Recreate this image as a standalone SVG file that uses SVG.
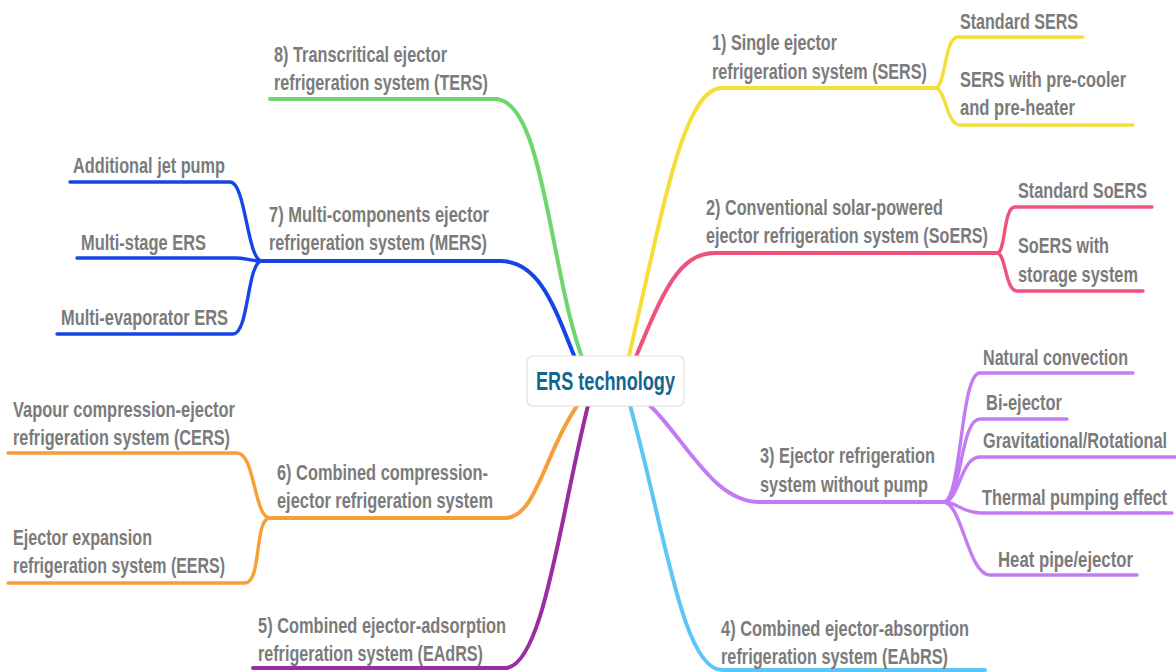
<svg xmlns="http://www.w3.org/2000/svg" width="1176" height="672" viewBox="0 0 1176 672">
  <style>
    .ln { fill: none; stroke-linecap: round; stroke-linejoin: round; }
    .main { stroke-width: 4; }
    .sub { stroke-width: 3.4; }
    .t { font-family: "Liberation Sans", Arial, sans-serif; font-weight: bold; font-size: 22px; fill: #7b7b7b; }
    .yel { stroke: #f6de3a; }
    .pnk { stroke: #f0527c; }
    .vio { stroke: #c57af5; }
    .sky { stroke: #5ec6f6; }
    .plm { stroke: #9a2d9f; }
    .org { stroke: #f89e38; }
    .blu { stroke: #1446e6; }
    .grn { stroke: #6fd56f; }
  </style>
  <rect width="1176" height="672" fill="#ffffff"/>

  <!-- branch and sub-branch connectors -->
  <g id="connectors">
    <!-- 1) SERS -->
    <path class="ln main yel" d="M622,385 C660,230 680,88 722,88 L935,88"/>
    <path class="ln sub yel" d="M935,88 C946,88 944,37 958,37 L1083,37"/>
    <path class="ln sub yel" d="M935,88 C946,88 946,125 960,125 L1133,125"/>
    <!-- 2) SoERS -->
    <path class="ln main pnk" d="M625,383 C660,300 675,253 715,253 L997,253"/>
    <path class="ln sub pnk" d="M997,253 C1006,253 1003,207 1015,207 L1152,207"/>
    <path class="ln sub pnk" d="M997,253 C1006,253 1005,291 1017,291 L1143,291"/>
    <!-- 3) without pump -->
    <path class="ln main vio" d="M625,385 C680,420 705,502 760,502 L943,502"/>
    <path class="ln sub vio" d="M943,502 C962,502 960,373 980,373 L1133,373"/>
    <path class="ln sub vio" d="M943,502 C962,502 960,419 980,419 L1067,419"/>
    <path class="ln sub vio" d="M943,502 C960,502 960,457 980,457 L1178,457"/>
    <path class="ln sub vio" d="M943,502 C958,502 962,513 980,513 L1172,513"/>
    <path class="ln sub vio" d="M943,502 C962,502 968,575 990,575 L1137,575"/>
    <!-- 4) EAbRS -->
    <path class="ln main sky" d="M625,388 C662,510 680,670 722,670 L985,670"/>
    <!-- 5) EAdRS -->
    <path class="ln main plm" d="M592,390 C562,500 545,668 505,668 L253,668"/>
    <!-- 6) compression-ejector -->
    <path class="ln main org" d="M585,395 C545,445 538,518 505,518 L270,518"/>
    <path class="ln sub org" d="M270,518 C254,518 255,453 237,453 L8,453"/>
    <path class="ln sub org" d="M270,518 C254,518 262,583 245,583 L8,583"/>
    <!-- 7) MERS -->
    <path class="ln main blu" d="M585,380 C560,330 548,261 500,261 L262,261"/>
    <path class="ln sub blu" d="M262,261 C247,261 246,182 230,182 L70,182"/>
    <path class="ln sub blu" d="M262,261 C250,261 246,258 235,258 L77,258"/>
    <path class="ln sub blu" d="M262,261 C247,261 249,334 233,334 L57,334"/>
    <!-- 8) TERS -->
    <path class="ln main grn" d="M585,365 C550,280 545,99 495,99 L270,99"/>
  </g>

  <g id="root">
    <rect x="527" y="356" width="157" height="50" rx="6" fill="#ffffff" stroke="#e0e0e0" stroke-width="1.2"/>
    <text x="536" y="390" font-family="Liberation Sans, Arial, sans-serif" font-weight="bold" font-size="25" fill="#13668e" textLength="139" lengthAdjust="spacingAndGlyphs">ERS technology</text>
  </g>

  <g id="n1">
    <text class="t" x="712" y="50" textLength="125" lengthAdjust="spacingAndGlyphs">1) Single ejector</text>
    <text class="t" x="712" y="79" textLength="215" lengthAdjust="spacingAndGlyphs">refrigeration system (SERS)</text>
  </g>
  <g id="n1a"><text class="t" x="960" y="29" textLength="118" lengthAdjust="spacingAndGlyphs">Standard SERS</text></g>
  <g id="n1b">
    <text class="t" x="960" y="87" textLength="166" lengthAdjust="spacingAndGlyphs">SERS with pre-cooler</text>
    <text class="t" x="960" y="115" textLength="115" lengthAdjust="spacingAndGlyphs">and pre-heater</text>
  </g>

  <g id="n2">
    <text class="t" x="706" y="215" textLength="237" lengthAdjust="spacingAndGlyphs">2) Conventional solar-powered</text>
    <text class="t" x="706" y="243" textLength="282" lengthAdjust="spacingAndGlyphs">ejector refrigeration system (SoERS)</text>
  </g>
  <g id="n2a"><text class="t" x="1018" y="198" textLength="129" lengthAdjust="spacingAndGlyphs">Standard SoERS</text></g>
  <g id="n2b">
    <text class="t" x="1018" y="253" textLength="91" lengthAdjust="spacingAndGlyphs">SoERS with</text>
    <text class="t" x="1018" y="282" textLength="120" lengthAdjust="spacingAndGlyphs">storage system</text>
  </g>

  <g id="n3">
    <text class="t" x="760" y="463" textLength="175" lengthAdjust="spacingAndGlyphs">3) Ejector refrigeration</text>
    <text class="t" x="760" y="492" textLength="168" lengthAdjust="spacingAndGlyphs">system without pump</text>
  </g>
  <g id="n3a"><text class="t" x="983" y="365" textLength="145" lengthAdjust="spacingAndGlyphs">Natural convection</text></g>
  <g id="n3b"><text class="t" x="986" y="410" textLength="76" lengthAdjust="spacingAndGlyphs">Bi-ejector</text></g>
  <g id="n3c"><text class="t" x="983" y="448" textLength="184" lengthAdjust="spacingAndGlyphs">Gravitational/Rotational</text></g>
  <g id="n3d"><text class="t" x="982" y="505" textLength="185" lengthAdjust="spacingAndGlyphs">Thermal pumping effect</text></g>
  <g id="n3e"><text class="t" x="998" y="567" textLength="135" lengthAdjust="spacingAndGlyphs">Heat pipe/ejector</text></g>

  <g id="n4">
    <text class="t" x="721" y="636" textLength="248" lengthAdjust="spacingAndGlyphs">4) Combined ejector-absorption</text>
    <text class="t" x="721" y="664" textLength="227" lengthAdjust="spacingAndGlyphs">refrigeration system (EAbRS)</text>
  </g>

  <g id="n5">
    <text class="t" x="258" y="633" textLength="248" lengthAdjust="spacingAndGlyphs">5) Combined ejector-adsorption</text>
    <text class="t" x="258" y="661" textLength="225" lengthAdjust="spacingAndGlyphs">refrigeration system (EAdRS)</text>
  </g>

  <g id="n6">
    <text class="t" x="277" y="480" textLength="211" lengthAdjust="spacingAndGlyphs">6) Combined compression-</text>
    <text class="t" x="277" y="508" textLength="216" lengthAdjust="spacingAndGlyphs">ejector refrigeration system</text>
  </g>
  <g id="n6a">
    <text class="t" x="13" y="417" textLength="222" lengthAdjust="spacingAndGlyphs">Vapour compression-ejector</text>
    <text class="t" x="13" y="445" textLength="217" lengthAdjust="spacingAndGlyphs">refrigeration system (CERS)</text>
  </g>
  <g id="n6b">
    <text class="t" x="13" y="545" textLength="139" lengthAdjust="spacingAndGlyphs">Ejector expansion</text>
    <text class="t" x="13" y="573" textLength="212" lengthAdjust="spacingAndGlyphs">refrigeration system (EERS)</text>
  </g>

  <g id="n7">
    <text class="t" x="269" y="222" textLength="220" lengthAdjust="spacingAndGlyphs">7) Multi-components ejector</text>
    <text class="t" x="269" y="250" textLength="218" lengthAdjust="spacingAndGlyphs">refrigeration system (MERS)</text>
  </g>
  <g id="n7a"><text class="t" x="73" y="173" textLength="152" lengthAdjust="spacingAndGlyphs">Additional jet pump</text></g>
  <g id="n7b"><text class="t" x="81" y="250" textLength="125" lengthAdjust="spacingAndGlyphs">Multi-stage ERS</text></g>
  <g id="n7c"><text class="t" x="61" y="325" textLength="167" lengthAdjust="spacingAndGlyphs">Multi-evaporator ERS</text></g>

  <g id="n8">
    <text class="t" x="274" y="62" textLength="173" lengthAdjust="spacingAndGlyphs">8) Transcritical ejector</text>
    <text class="t" x="274" y="90" textLength="214" lengthAdjust="spacingAndGlyphs">refrigeration system (TERS)</text>
  </g>
</svg>
